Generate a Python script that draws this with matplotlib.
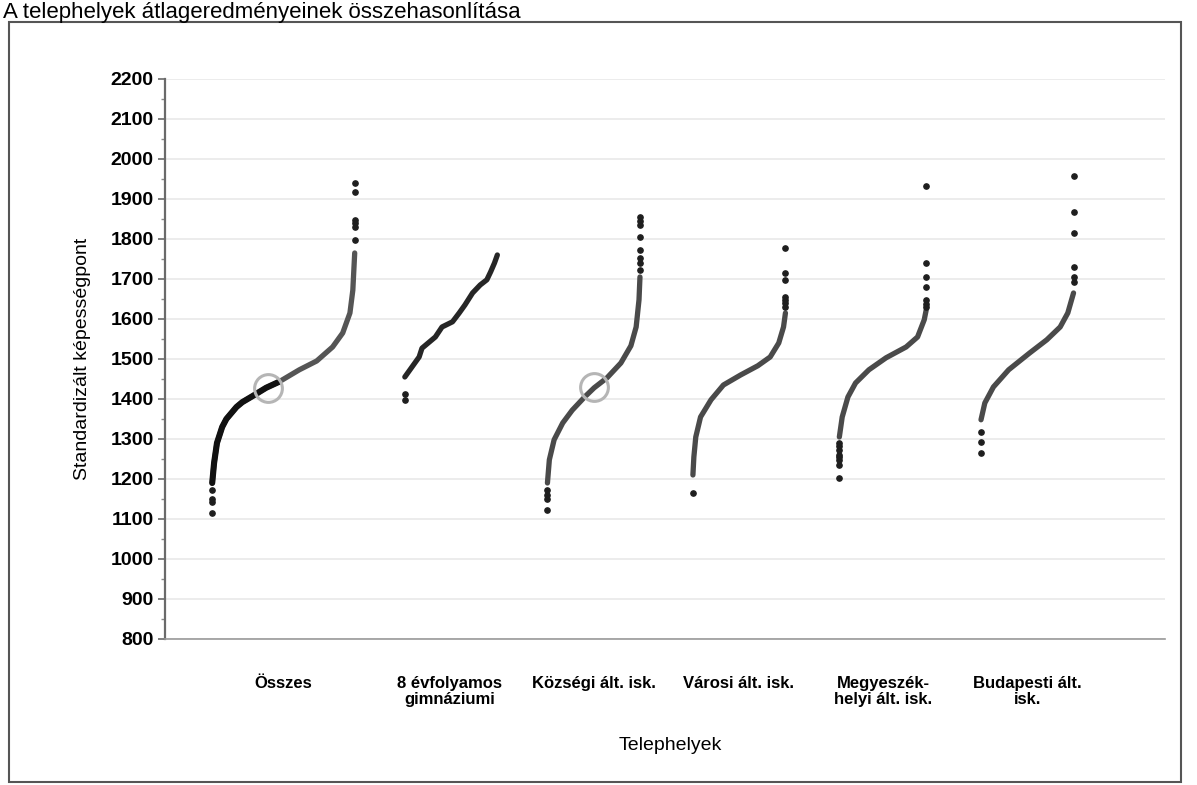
import numpy as np
import matplotlib.pyplot as plt
from matplotlib.patches import Rectangle
from matplotlib.transforms import blended_transform_factory

plt.rcParams['font.family'] = ['Liberation Sans', 'DejaVu Sans']

categories = ["Összes", "8 évfolyamos\ngimnáziumi", "Községi ált. isk.",
              "Városi ált. isk.", "Megyeszék-\nhelyi ált. isk.", "Budapesti ált.\nisk."]

# sorted site averages: relative rank (0..1) and score
osszes_rank = [0.007, 0.02, 0.04, 0.076, 0.105, 0.14, 0.175, 0.215, 0.285, 0.38, 0.47, 0.61, 0.73, 0.84, 0.91, 0.96, 0.98, 0.993]
osszes_score = [1190, 1240, 1290, 1330, 1350, 1365, 1380, 1392, 1407, 1428, 1443, 1473, 1495, 1530, 1565, 1615, 1672, 1765]
osszes_low = [1115, 1142, 1150, 1172]
osszes_high = [1798, 1830, 1840, 1848, 1918, 1940]

gimn_rank = [0.03, 0.105, 0.18, 0.21, 0.35, 0.42, 0.53, 0.6, 0.66, 0.74, 0.82, 0.89, 0.93, 0.97, 1.0]
gimn_score = [1455, 1480, 1505, 1527, 1555, 1580, 1593, 1615, 1635, 1665, 1685, 1698, 1718, 1740, 1760]
gimn_low = [1398, 1413]
gimn_high = []

kozsegi_rank = [0.01, 0.03, 0.08, 0.17, 0.27, 0.4, 0.5, 0.635, 0.78, 0.885, 0.94, 0.97, 0.98]
kozsegi_score = [1190, 1248, 1298, 1340, 1372, 1405, 1428, 1453, 1490, 1533, 1580, 1648, 1705]
kozsegi_low = [1122, 1150, 1160, 1172]
kozsegi_high = [1722, 1740, 1752, 1772, 1805, 1835, 1845, 1855]

varosi_rank = [0.02, 0.03, 0.05, 0.1, 0.21, 0.34, 0.52, 0.7, 0.83, 0.92, 0.97, 0.99]
varosi_score = [1210, 1255, 1305, 1355, 1398, 1435, 1460, 1483, 1505, 1540, 1580, 1615]
varosi_low = [1165]
varosi_high = [1630, 1640, 1648, 1655, 1698, 1715, 1778]

megye_rank = [0.04, 0.07, 0.13, 0.21, 0.35, 0.53, 0.74, 0.86, 0.93, 0.95]
megye_score = [1305, 1355, 1405, 1440, 1473, 1503, 1530, 1555, 1598, 1622]
megye_low = [1202, 1235, 1248, 1255, 1260, 1272, 1282, 1290]
megye_high = [1630, 1638, 1648, 1680, 1705, 1740, 1933]

bp_rank = [0.01, 0.05, 0.14, 0.3, 0.52, 0.7, 0.84, 0.92, 0.98]
bp_score = [1348, 1390, 1430, 1473, 1515, 1548, 1580, 1615, 1665]
bp_low = [1265, 1292, 1318]
bp_high = [1693, 1705, 1730, 1815, 1868, 1958]

# highlighted sites (grey rings)
ring_group = [0, 2]
ring_rank = [0.39, 0.5]
ring_score = [1428, 1430]

groups = [
    (osszes_rank, osszes_score, osszes_low, osszes_high),
    (gimn_rank, gimn_score, gimn_low, gimn_high),
    (kozsegi_rank, kozsegi_score, kozsegi_low, kozsegi_high),
    (varosi_rank, varosi_score, varosi_low, varosi_high),
    (megye_rank, megye_score, megye_low, megye_high),
    (bp_rank, bp_score, bp_low, bp_high),
]
centers = [0.85, 2, 3, 4, 5, 6]
spans = [1.0, 0.66, 0.66, 0.66, 0.66, 0.66]
line_colors = ['#555555', '#262626', '#4a4a4a', '#4a4a4a', '#4a4a4a', '#4a4a4a']

fig = plt.figure(figsize=(11.97, 7.85), dpi=100)
ax = fig.add_axes([0.1378, 0.186, 0.8355, 0.7134])

def xpos(i, r):
    return centers[i] + (np.asarray(r, dtype=float) - 0.5) * spans[i]

for i, (rank, score, low, high) in enumerate(groups):
    x = xpos(i, rank)
    ax.plot(x, score, color=line_colors[i], lw=3.8, solid_capstyle='round',
            solid_joinstyle='round', zorder=3)
    if i == 0:
        # lower half of the "all sites" curve is drawn in black
        k = int(np.searchsorted(rank, 0.47)) + 1
        ax.plot(x[:k], score[:k], color='#111111', lw=4.4, solid_capstyle='round',
                solid_joinstyle='round', zorder=4)
    if low:
        ax.plot(np.full(len(low), xpos(i, rank[0])), low, 'o', ms=3.8,
                color='#1e1e1e', zorder=4)
    if high:
        ax.plot(np.full(len(high), xpos(i, rank[-1])), high, 'o', ms=3.8,
                color='#1e1e1e', zorder=4)

for g, r, s in zip(ring_group, ring_rank, ring_score):
    ax.plot(xpos(g, r), s, 'o', ms=20, mfc='none', mec='#b5b5b5', mew=2.2, zorder=5)

ax.set_xlim(0.03, 6.95)
ax.set_ylim(800, 2200)
ax.set_yticks(np.arange(800, 2201, 100))
ax.set_yticks(np.arange(800, 2201, 50), minor=True)
ax.set_xticks([])
ax.grid(axis='y', color='#e9e9e9', lw=1.2)
ax.set_axisbelow(True)
for s in ['top', 'right']:
    ax.spines[s].set_visible(False)
ax.spines['left'].set_color('#6a6a6a')
ax.spines['left'].set_linewidth(1.6)
ax.spines['bottom'].set_color('#9a9a9a')
ax.spines['bottom'].set_linewidth(1.2)
ax.tick_params(axis='y', which='major', length=5, width=1.2, color='#6a6a6a',
               labelsize=14, pad=3)
ax.tick_params(axis='y', which='minor', length=3, width=1, color='#8a8a8a')
for lab in ax.get_yticklabels():
    lab.set_fontweight('bold')

trans = blended_transform_factory(ax.transData, ax.transAxes)
for c, name in zip(centers, categories):
    ax.text(c, -0.066, name, transform=trans, ha='center', va='top',
            fontsize=12, fontweight='bold', linespacing=1.05)

ax.set_ylabel("Standardizált képességpont", fontsize=14, labelpad=14)
fig.text(670 / 1197, 1 - 745 / 785, "Telephelyek", ha='center', va='center', fontsize=14)

fig.text(3 / 1197, 1 - 18 / 785, "A telephelyek átlageredményeinek összehasonlítása",
         ha='left', va='baseline', fontsize=16)
fig.patches.append(Rectangle((9 / 1197, 3 / 785), 1172 / 1197, 760 / 785,
                             transform=fig.transFigure, fill=False,
                             edgecolor='#555555', lw=1.5))

fig.savefig("out.png", dpi=100)
